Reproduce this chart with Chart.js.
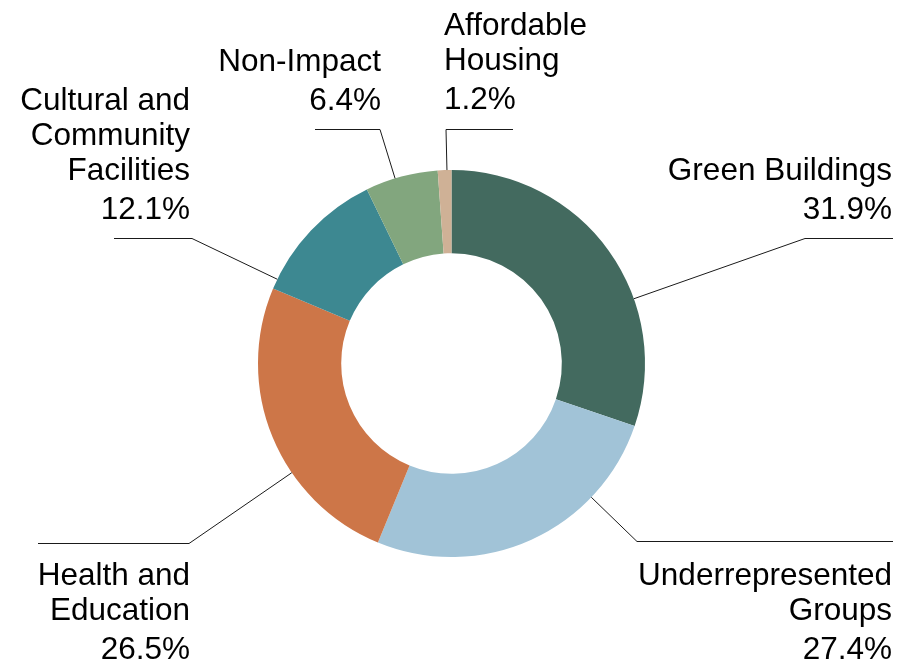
<!DOCTYPE html>
<html>
<head>
<meta charset="utf-8">
<script src="https://cdn.jsdelivr.net/npm/chart.js@4.4.1/dist/chart.umd.min.js"></script>
<style>
  html, body { margin: 0; padding: 0; background: #fff; }
  #wrap { width: 899px; height: 671px; position: relative; }
</style>
</head>
<body>
<div id="wrap"><canvas id="impactChart"></canvas></div>
<script>
// Catégories et valeurs (en %), dans l'ordre horaire depuis le haut
const categories = [
  ["Green Buildings"],
  ["Underrepresented", "Groups"],
  ["Health and", "Education"],
  ["Cultural and", "Community", "Facilities"],
  ["Non-Impact"],
  ["Affordable", "Housing"]
];
const shares = [31.9, 27.4, 26.5, 12.1, 6.4, 1.2];
const shareLabels = ["31.9%", "27.4%", "26.5%", "12.1%", "6.4%", "1.2%"];
const sliceColors = ["#436a5f", "#a1c3d7", "#cd7648", "#3d8891", "#82a67e", "#cfb196"];

// Placement des étiquettes (texte + coude de la ligne de rappel)
const labelLayout = [
  { x: 892, align: "right", y: 180, elbow: [805, 238], lineEnd: 893 },
  { x: 892, align: "right", y: 585, elbow: [637, 541], lineEnd: 893 },
  { x: 190, align: "right", y: 585, elbow: [189, 543], lineEnd: 38 },
  { x: 190, align: "right", y: 110, elbow: [192, 238], lineEnd: 114 },
  { x: 381, align: "right", y: 71,  elbow: [380, 129], lineEnd: 315 },
  { x: 444, align: "left",  y: 35,  elbow: [446, 129], lineEnd: 513 }
];

const calloutPlugin = {
  id: "callouts",
  afterDatasetsDraw(chart) {
    const ctx = chart.ctx;
    const meta = chart.getDatasetMeta(0);
    ctx.save();
    ctx.font = "31.5px 'Liberation Sans', Arial, sans-serif";
    ctx.fillStyle = "#000";
    ctx.textBaseline = "alphabetic";

    meta.data.forEach((arc, i) => {
      const p = arc.getProps(["x", "y", "outerRadius", "startAngle", "endAngle"], true);
      const L = labelLayout[i];
      const [ex, ey] = L.elbow;

      // point du bord le plus proche du coude, limité à la tranche
      let a = Math.atan2(ey - p.y, ex - p.x);
      while (a < p.startAngle) a += Math.PI * 2;
      while (a > p.startAngle + Math.PI * 2) a -= Math.PI * 2;
      if (a > p.endAngle) {
        const dEnd = a - p.endAngle;
        const dStart = p.startAngle + Math.PI * 2 - a;
        a = dEnd < dStart ? p.endAngle : p.startAngle;
      }
      const ax = p.x + p.outerRadius * Math.cos(a);
      const ay = p.y + p.outerRadius * Math.sin(a);

      ctx.strokeStyle = "#1a1a1a";
      ctx.lineWidth = 1;
      ctx.beginPath();
      ctx.moveTo(ax, ay);
      ctx.lineTo(ex, ey + 0.5);
      ctx.lineTo(L.lineEnd, ey + 0.5);
      ctx.stroke();

      // texte
      ctx.textAlign = L.align;
      let yy = L.y;
      categories[i].forEach(line => {
        ctx.fillText(line, L.x, yy);
        yy += 35;
      });
      ctx.fillText(shareLabels[i], L.x, yy + 4);
    });
    ctx.restore();
  }
};

new Chart(document.getElementById("impactChart"), {
  type: "doughnut",
  data: {
    labels: categories.map(c => c.join(" ")),
    datasets: [{
      data: shares,
      backgroundColor: sliceColors,
      borderWidth: 0,
      hoverOffset: 0,
      offset: 0
    }]
  },
  options: {
    responsive: true,
    maintainAspectRatio: false,
    animation: false,
    cutout: "57%",
    layout: { padding: { left: 258, right: 254, top: 170, bottom: 114 } },
    plugins: {
      legend: { display: false },
      tooltip: { enabled: false }
    }
  },
  plugins: [calloutPlugin]
});
</script>
</body>
</html>
